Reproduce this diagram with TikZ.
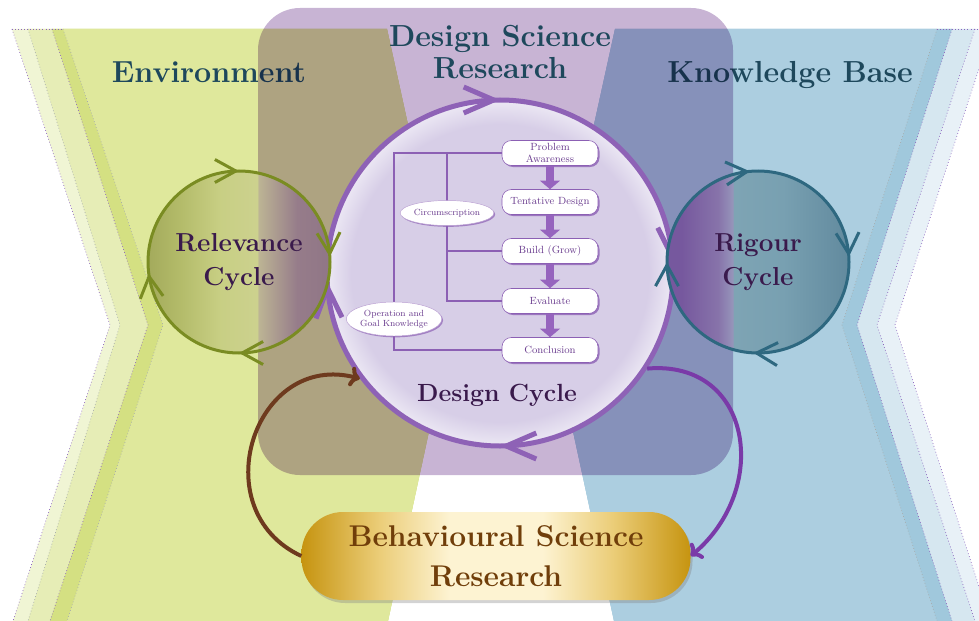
\documentclass[tikz,border=0pt]{standalone}
\usetikzlibrary{shapes.geometric,arrows.meta,decorations.markings,shadows}

\definecolor{envgreen}{RGB}{223,232,156}
\definecolor{envstripe}{RGB}{212,224,130}
\definecolor{envpale}{RGB}{230,237,182}
\definecolor{envpaler}{RGB}{240,245,212}
\definecolor{kbblue}{RGB}{172,206,224}
\definecolor{kbstripe}{RGB}{160,200,220}
\definecolor{kbpale}{RGB}{214,231,240}
\definecolor{kbpaler}{RGB}{232,241,247}
\definecolor{dottedpurple}{RGB}{140,100,190}
\definecolor{dottedgrey}{RGB}{165,170,170}
\definecolor{dsrtint}{RGB}{200,180,212}
\definecolor{titleteal}{RGB}{30,72,92}
\definecolor{cyclefont}{RGB}{58,26,76}
\definecolor{relline}{RGB}{122,140,34}
\definecolor{rigline}{RGB}{46,104,128}
\definecolor{dcline}{RGB}{142,98,182}
\definecolor{flowtext}{RGB}{107,61,143}
\definecolor{flowline}{RGB}{140,96,180}
\definecolor{flowhead}{RGB}{150,100,190}
\definecolor{bsrtext}{RGB}{112,62,10}
\definecolor{linkbrown}{RGB}{110,58,30}
\definecolor{linkpurple}{RGB}{122,58,168}

\definecolor{relA}{RGB}{163,170,92}
\definecolor{relB}{RGB}{178,186,104}
\definecolor{relC}{RGB}{200,207,132}
\definecolor{relD}{RGB}{204,209,142}
\definecolor{relE}{RGB}{188,180,148}
\definecolor{relF}{RGB}{150,124,138}
\definecolor{relG}{RGB}{144,118,134}
\pgfdeclarehorizontalshading{relshade}{100bp}{color(0bp)=(relA); color(25bp)=(relA); color(33bp)=(relB); color(45bp)=(relC); color(55bp)=(relD); color(55.4bp)=(relE); color(66bp)=(relF); color(75bp)=(relG); color(100bp)=(relG)}

\definecolor{rigA}{RGB}{118,88,158}
\definecolor{rigB}{RGB}{135,115,170}
\definecolor{rigC}{RGB}{150,148,186}
\definecolor{rigD}{RGB}{126,164,180}
\definecolor{rigE}{RGB}{120,160,177}
\definecolor{rigF}{RGB}{98,138,158}
\pgfdeclarehorizontalshading{rigshade}{100bp}{color(0bp)=(rigA); color(25bp)=(rigA); color(29bp)=(rigA); color(39bp)=(rigB); color(43bp)=(rigC); color(43.4bp)=(rigD); color(57bp)=(rigE); color(75bp)=(rigF); color(100bp)=(rigF)}

\definecolor{dcA}{RGB}{215,206,231}
\definecolor{dcB}{RGB}{236,232,244}
\pgfdeclareradialshading{dcshade}{\pgfpoint{0bp}{0bp}}{color(0bp)=(dcA); color(21.5bp)=(dcA); color(25bp)=(dcB); color(50bp)=(dcB)}

\definecolor{bsrgold}{RGB}{198,148,16}
\definecolor{bsrmid}{RGB}{235,205,120}
\definecolor{bsrcream}{RGB}{253,243,210}
\pgfdeclarehorizontalshading{bsrshade}{100bp}{color(0bp)=(bsrgold); color(25bp)=(bsrgold); color(35bp)=(bsrmid); color(44bp)=(bsrcream); color(56bp)=(bsrcream); color(65bp)=(bsrmid); color(75bp)=(bsrgold); color(100bp)=(bsrgold)}

\begin{document}
\begin{tikzpicture}[x=0.3mm, y=0.3mm,
    titletext/.style={font=\bfseries\fontsize{26}{28}\selectfont, text=titleteal, inner sep=0pt},
    cycletext/.style={font=\bfseries\fontsize{22.2}{29}\selectfont, text=cyclefont, align=center},
    cyclelabel/.style={font=\bfseries\fontsize{21.2}{25}\selectfont, text=cyclefont, inner sep=0pt},
    relbarb/.tip={Straight Barb[length=6.3mm, width=6.9mm]},
    dcbarb/.tip={Straight Barb[length=9mm, width=7.8mm]},
    cyclemarks/.style n args={5}{postaction={decorate, decoration={markings,
        mark=at position #1 with {\arrowreversed{#5}},
        mark=at position #2 with {\arrowreversed{#5}},
        mark=at position #3 with {\arrowreversed{#5}},
        mark=at position #4 with {\arrowreversed{#5}}}}},
    dccircle/.style={circle, minimum size=103.8mm, inner sep=0pt, shade, shading=dcshade, draw,
        color=dcline, line width=1.5mm, line cap=round, cyclemarks={0.009}{0.25}{0.508}{0.75}{dcbarb}},
    relcircle/.style={circle, minimum size=54.6mm, inner sep=0pt, shade, shading=relshade, draw,
        color=relline, line width=0.9mm, line cap=round, cycletext, cyclemarks={0.009}{0.25}{0.52}{0.75}{relbarb}},
    rigcircle/.style={circle, minimum size=54.6mm, inner sep=0pt, shade, shading=rigshade, draw,
        color=rigline, line width=0.9mm, line cap=round, cycletext, cyclemarks={0.009}{0.264}{0.5}{0.742}{relbarb}},
    phasebox/.style={rectangle, rounded corners=2.8mm, minimum width=28.8mm, minimum height=7.5mm,
        inner sep=1pt, fill=white, draw=flowline, line width=0.5pt, align=center, text=flowtext,
        font=\fontsize{8.9}{9.6}\selectfont,
        drop shadow={shadow xshift=0.45mm, shadow yshift=-0.45mm, fill=flowline, opacity=0.8}},
    noteoval/.style={ellipse, inner sep=0pt, fill=white, draw=flowline!60, line width=0.4pt,
        align=center, text=flowtext, font=\fontsize{7.6}{8.6}\selectfont,
        drop shadow={shadow xshift=0.4mm, shadow yshift=-0.4mm, fill=flowline, opacity=0.7}},
    flowlink/.style={draw=flowline, line width=0.6mm},
    flowarrow/.style={draw=flowhead, line width=2.6mm, -{Triangle[width=6mm, length=2.6mm]}},
    bsrbox/.style={rectangle, rounded corners=12.5mm, minimum width=116.7mm, minimum height=26.4mm,
        shade, shading=bsrshade, text=bsrtext, align=center, font=\bfseries\fontsize{25.6}{34}\selectfont,
        drop shadow={shadow xshift=0.6mm, shadow yshift=-0.9mm, opacity=0.35}},
    brownlink/.style={draw=linkbrown, line width=1.2mm,
        -{Computer Modern Rightarrow[length=3mm, width=6mm]}},
    purplelink/.style={draw=linkpurple, line width=1.2mm,
        -{Computer Modern Rightarrow[length=3mm, width=6mm]}}
  ]
  \useasboundingbox (0,0) rectangle (979,-621);
  \clip (0,0) rectangle (979,-621);

  % environment band
  \foreach \xa/\xb/\xc/\bandcol/\dotcol in {12/110/13/envpaler/dottedpurple,
      28/120/28/envpale/dottedgrey, 52/148/50/envstripe/dottedpurple, 63/163/67/envgreen/dottedgrey}{
    \fill[\bandcol] (\xa,-29) -- (\xb,-325) -- (\xc,-621) -- (388,-621) -- (452,-325) -- (387,-29) -- cycle;
    \draw[\dotcol, dotted, line width=0.6pt] (\xa,-29) -- (\xb,-325) -- (\xc,-621);
  }
  \draw[dottedpurple, dotted, line width=0.6pt] (12,-29) -- (63,-29);

  % knowledge base band
  \foreach \xa/\xb/\xc/\bandcol/\dotcol in {992/895/990/kbpaler/dottedpurple,
      975/877/975/kbpale/dottedpurple, 952/857/952/kbstripe/dottedpurple, 937/842/937/kbblue/dottedgrey}{
    \fill[\bandcol] (\xa,-29) -- (\xb,-325) -- (\xc,-621) -- (614,-621) -- (550,-325) -- (615,-29) -- cycle;
    \draw[\dotcol, dotted, line width=0.6pt] (\xa,-29) -- (\xb,-325) -- (\xc,-621);
  }
  \draw[dottedpurple, dotted, line width=0.6pt] (937,-29) -- (979,-29);

  \node[titletext, anchor=base] (env) at (209,-83) {Environment};
  \node[titletext, anchor=base] (kb) at (790,-83) {Knowledge Base};

  % design science research frame
  \begin{scope}[blend mode=multiply]
    \fill[dsrtint, rounded corners=12.6mm] (258,-8) rectangle (733,-475);
  \end{scope}
  \node[titletext, align=center] (dsr) at (500,-52) {Design Science\\Research};

  % cycles
  \node[dccircle] (dc) at (500,-273) {};
  \node[cyclelabel, anchor=base] (dcl) at (497,-401) {Design Cycle};
  \node[relcircle] (rel) at (239,-262) {Relevance\\Cycle};
  \node[rigcircle] (rig) at (758,-262) {Rigour\\Cycle};

  % design cycle steps
  \node[phasebox] (pa) at (550,-153) {Problem\\Awareness};
  \node[phasebox] (td) at (550,-202) {Tentative Design};
  \node[phasebox] (bld) at (550,-251) {Build (Grow)};
  \node[phasebox] (eva) at (550,-301) {Evaluate};
  \node[phasebox] (con) at (550,-350) {Conclusion};

  \coordinate (okbar) at (394,-153);
  \coordinate (cbar) at (447,-153);
  \draw[flowlink] (pa.west) -- (okbar) |- (con.west);
  \draw[flowlink] (cbar) |- (eva.west);
  \draw[flowlink] (cbar |- bld.west) -- (bld.west);
  \foreach \a/\b in {pa/td, td/bld, bld/eva, eva/con}
    \draw[flowarrow] (\a) -- (\b);

  \node[noteoval, minimum width=25.5mm, minimum height=7.5mm] (circ) at (447,-213) {Circumscription};
  \node[noteoval, minimum width=27.6mm, minimum height=10.2mm] (opk) at (394,-319) {Operation and\\Goal Knowledge};

  % behavioural science
  \node[bsrbox] (bsr) at (496,-556) {Behavioural Science\\Research};
  \draw[brownlink] (bsr.west) to[out=155, in=165, looseness=1.5] (dc.217);
  \draw[purplelink] (dc.327) to[out=5, in=40, looseness=1.4] (bsr.east);
\end{tikzpicture}
\end{document}
